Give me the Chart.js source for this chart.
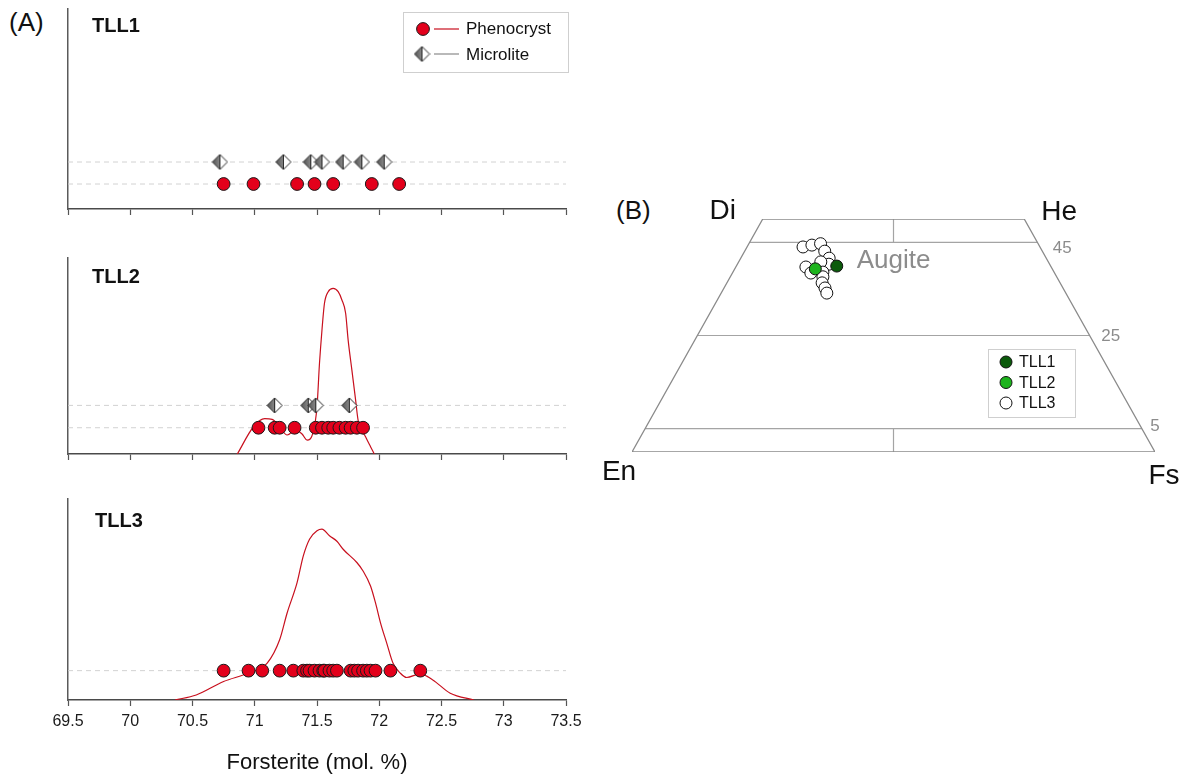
<!DOCTYPE html>
<html>
<head>
<meta charset="utf-8">
<title>Forsterite distribution and pyroxene quadrilateral</title>
<script src="https://cdn.jsdelivr.net/npm/chart.js@4.4.1/dist/chart.umd.min.js"></script>
<style>
  html, body { margin: 0; padding: 0; background: #fff; }
  body { width: 1191px; height: 780px; position: relative; overflow: hidden;
         font-family: "Liberation Sans", Arial, Helvetica, sans-serif; }
  canvas { position: absolute; }
  .tag { position: absolute; font-size: 26px; line-height: 1; color: #111; white-space: nowrap; }
</style>
</head>
<body>
<div class="tag" style="left:9px;top:9px">(A)</div>
<div class="tag" style="left:616px;top:197px">(B)</div>

<canvas id="tll1" width="590" height="222" style="left:0;top:0"></canvas>
<canvas id="tll2" width="590" height="220" style="left:0;top:248px"></canvas>
<canvas id="tll3" width="590" height="290" style="left:0;top:490px"></canvas>
<canvas id="quad" width="596" height="310" style="left:595px;top:180px"></canvas>

<script>
// ---------- olivine forsterite content (mol. %) ----------
const foTicks = [69.5, 70, 70.5, 71, 71.5, 72, 72.5, 73, 73.5];

const tll1Phenocryst = [70.75, 70.99, 71.34, 71.48, 71.63, 71.94, 72.16];
const tll1Microlite  = [70.72, 71.23, 71.45, 71.54, 71.71, 71.86, 72.04];

const tll2Phenocryst = [71.03, 71.16, 71.20, 71.32, 71.49, 71.54, 71.59, 71.63, 71.68, 71.73, 71.77, 71.82, 71.87];
const tll2Microlite  = [71.16, 71.43, 71.49, 71.76];

const tll3Phenocryst = [70.75, 70.95, 71.06, 71.20, 71.31, 71.39, 71.42, 71.44, 71.48, 71.52, 71.55, 71.56,
                        71.60, 71.63, 71.66, 71.77, 71.80, 71.83, 71.87, 71.90, 71.93, 71.97, 72.09, 72.33];

// kernel density of the phenocryst compositions (relative units)
const tll2DensityFo = [70.86, 70.99, 71.08, 71.14, 71.20, 71.26, 71.33, 71.38, 71.42, 71.47, 71.50, 71.52, 71.54,
                       71.56, 71.59, 71.63, 71.67, 71.70, 71.73, 71.75, 71.78, 71.81, 71.83, 71.89, 71.93, 71.96];
const tll2Density   = [0, 0.139, 0.180, 0.177, 0.139, 0.097, 0.122, 0.102, 0.071, 0.114, 0.241, 0.463, 0.633,
                       0.769, 0.828, 0.845, 0.828, 0.786, 0.718, 0.582, 0.429, 0.276, 0.173, 0.088, 0.037, 0];

const tll3DensityFo = [70.36, 70.53, 70.75, 70.95, 71.10, 71.20, 71.26, 71.34, 71.39, 71.44, 71.50, 71.54, 71.60, 71.66,
                       71.71, 71.82, 71.87, 71.93, 71.97, 72.01, 72.06, 72.11, 72.17, 72.22, 72.33, 72.43, 72.57, 72.76];
const tll3Density   = [0, 0.025, 0.092, 0.134, 0.184, 0.300, 0.433, 0.584, 0.717, 0.800, 0.842, 0.850, 0.817, 0.790,
                       0.750, 0.684, 0.642, 0.567, 0.483, 0.384, 0.283, 0.184, 0.133, 0.112, 0.130, 0.100, 0.034, 0];

// ---------- pyroxene compositions (Wo, Fs in mol. %) ----------
const tll1Wo = [39.9];
const tll1Fs = [19.2];
const tll2Wo = [39.3];
const tll2Fs = [15.4];
const tll3Wo = [44.0, 44.4, 44.7, 43.1, 41.6, 40.3, 40.8, 39.7, 38.4, 38.6, 37.6, 36.3, 35.2, 34.1];
const tll3Fs = [10.7, 12.2, 13.7, 15.3, 16.9, 17.5, 15.7, 13.4, 15.0, 17.2, 17.7, 18.2, 19.3, 20.2];

// quadrilateral subdivisions (Wo contours)
const woContours = [45, 25, 5];

// ---------- shared style ----------
const FONT = '"Liberation Sans", Arial, Helvetica, sans-serif';
Chart.defaults.font.family = FONT;
Chart.defaults.animation = false;

const RED = '#e3001b';
const CURVE_RED = '#c8101e';

// half-grey diamond used for microlites
function makeDiamond(size) {
  const c = document.createElement('canvas');
  c.width = c.height = size;
  const g = c.getContext('2d');
  const m = size / 2, r = size / 2 - 1;
  const grad = g.createLinearGradient(m - r, 0, m, 0);
  grad.addColorStop(0, '#555555');
  grad.addColorStop(1, '#8a8a8a');
  g.beginPath(); g.moveTo(m, m - r); g.lineTo(m, m + r); g.lineTo(m - r, m); g.closePath();
  g.fillStyle = grad; g.fill();
  g.beginPath(); g.moveTo(m, m - r); g.lineTo(m + r, m); g.lineTo(m, m + r); g.closePath();
  g.fillStyle = '#ffffff'; g.fill();
  g.strokeStyle = '#222'; g.lineWidth = 1;
  g.beginPath(); g.moveTo(m, m - r); g.lineTo(m + r, m); g.lineTo(m, m + r); g.lineTo(m - r, m); g.closePath(); g.stroke();
  g.beginPath(); g.moveTo(m, m - r); g.lineTo(m, m + r); g.stroke();
  return c;
}
const microliteMarker = makeDiamond(17);

const strip = (values, level) => values.map(v => ({ x: v, y: level }));
const curve = (fo, den) => fo.map((v, i) => ({ x: v, y: den[i] }));

const guideSet = level => ({
  data: [{ x: foTicks[0], y: level }, { x: foTicks[foTicks.length - 1], y: level }],
  showLine: true, borderColor: '#d2d2d2', borderWidth: 1, borderDash: [5, 4], pointRadius: 0, order: 5
});
const phenoSet = (values, level) => ({
  data: strip(values, level), showLine: false, pointStyle: 'circle', pointRadius: 6.4,
  pointBackgroundColor: RED, pointBorderColor: '#1a1a1a', pointBorderWidth: 1, order: 1
});
const microSet = (values, level) => ({
  data: strip(values, level), showLine: false, pointStyle: microliteMarker, pointRadius: 8, order: 1
});
const densitySet = (fo, den) => ({
  data: curve(fo, den), showLine: true, borderColor: CURVE_RED, borderWidth: 1.2, pointRadius: 0,
  cubicInterpolationMode: 'monotone', order: 3
});

// sample name in the corner of each strip panel
const panelTitle = {
  id: 'panelTitle',
  afterDraw(chart, args, o) {
    const ctx = chart.ctx;
    ctx.save();
    ctx.font = 'bold 20px ' + FONT;
    ctx.fillStyle = '#111';
    ctx.textBaseline = 'middle';
    ctx.fillText(o.text, o.x, o.y);
    ctx.restore();
  }
};

// phenocryst / microlite key
const phaseLegend = {
  id: 'phaseLegend',
  afterDraw(chart, args, o) {
    if (!o.show) return;
    const ctx = chart.ctx;
    ctx.save();
    ctx.strokeStyle = '#cfcfcf'; ctx.lineWidth = 1;
    ctx.strokeRect(403.5, 12.5, 165, 60);
    // phenocryst
    ctx.beginPath(); ctx.arc(423, 29, 6.4, 0, Math.PI * 2);
    ctx.fillStyle = RED; ctx.fill(); ctx.strokeStyle = '#1a1a1a'; ctx.stroke();
    ctx.beginPath(); ctx.moveTo(434, 29); ctx.lineTo(459, 29); ctx.strokeStyle = CURVE_RED; ctx.lineWidth = 1.2; ctx.stroke();
    // microlite
    ctx.drawImage(microliteMarker, 422 - 8.5, 54 - 8.5);
    ctx.beginPath(); ctx.moveTo(434, 54); ctx.lineTo(459, 54); ctx.strokeStyle = '#8a8a8a'; ctx.stroke();
    ctx.font = '17px ' + FONT; ctx.fillStyle = '#111'; ctx.textBaseline = 'middle';
    ctx.fillText('Phenocryst', 466, 29);
    ctx.fillText('Microlite', 466, 55);
    ctx.restore();
  }
};

function stripPanel(id, datasets, opt) {
  return new Chart(document.getElementById(id), {
    type: 'scatter',
    data: { datasets },
    options: {
      responsive: false, animation: false, events: [],
      layout: { padding: { top: opt.top, right: 24, left: 0, bottom: 0 } },
      plugins: {
        legend: { display: false }, tooltip: { enabled: false },
        panelTitle: { text: opt.title, x: opt.tx, y: opt.ty },
        phaseLegend: { show: !!opt.key }
      },
      scales: {
        x: {
          type: 'linear', min: foTicks[0], max: foTicks[foTicks.length - 1],
          afterBuildTicks: s => { s.ticks = foTicks.map(v => ({ value: v })); },
          afterFit: s => { s.height = opt.axisH; },
          grid: { drawOnChartArea: false, drawTicks: true, tickLength: 6, color: '#555', tickWidth: 1.2 },
          border: { display: true, color: '#4a4a4a', width: 1.5 },
          ticks: { display: true, color: opt.labels ? '#1a1a1a' : 'rgba(0,0,0,0)', autoSkip: false, maxRotation: 0,
                   padding: 6, font: { size: 16 }, callback: v => String(v) },
          title: { display: !!opt.labels, text: 'Forsterite (mol. %)', color: '#111',
                   font: { size: 22 }, padding: { top: 0, bottom: 4 } }
        },
        y: {
          min: 0, max: 1,
          afterFit: s => { s.width = 68; },
          grid: { drawOnChartArea: false, drawTicks: false },
          border: { display: true, color: '#5a5a5a', width: 1.5 },
          ticks: { display: false }
        }
      }
    },
    plugins: [panelTitle, phaseLegend]
  });
}

stripPanel('tll1', [
  microSet(tll1Microlite, 0.235),
  phenoSet(tll1Phenocryst, 0.125),
  guideSet(0.235), guideSet(0.125)
], { top: 9, axisH: 13, title: 'TLL1', tx: 92, ty: 26, key: true });

stripPanel('tll2', [
  microSet(tll2Microlite, 0.248),
  phenoSet(tll2Phenocryst, 0.134),
  densitySet(tll2DensityFo, tll2Density),
  guideSet(0.248), guideSet(0.134)
], { top: 10, axisH: 14, title: 'TLL2', tx: 92, ty: 29 });

stripPanel('tll3', [
  phenoSet(tll3Phenocryst, 0.146),
  densitySet(tll3DensityFo, tll3Density),
  guideSet(0.146)
], { top: 9, axisH: 80, title: 'TLL3', tx: 95, ty: 31, labels: true });

// ---------- pyroxene quadrilateral (x = Fs + Wo/2, y = Wo) ----------
const toQuad = (wo, fs) => wo.map((w, i) => ({ x: fs[i] + w / 2, y: w }));

const frameStyle = { showLine: true, pointRadius: 0, borderColor: '#8a8a8a', borderWidth: 1.3, order: 10 };
const divStyle = { showLine: true, pointRadius: 0, borderColor: '#a4a4a4', borderWidth: 1.2, order: 10 };

const quadDatasets = [
  { label: 'TLL1', data: toQuad(tll1Wo, tll1Fs), pointRadius: 6, pointBackgroundColor: '#0b5a0b',
    pointBorderColor: '#111', pointBorderWidth: 1, order: 1 },
  { label: 'TLL2', data: toQuad(tll2Wo, tll2Fs), pointRadius: 6, pointBackgroundColor: '#1db41d',
    pointBorderColor: '#111', pointBorderWidth: 1, order: 2 },
  { label: 'TLL3', data: toQuad(tll3Wo, tll3Fs), pointRadius: 6, pointBackgroundColor: '#ffffff',
    pointBorderColor: '#111', pointBorderWidth: 1, order: 3 },
  Object.assign({ data: [{ x: 0, y: 0 }, { x: 25, y: 50 }, { x: 75, y: 50 }, { x: 100, y: 0 }, { x: 0, y: 0 }] }, frameStyle),
  ...woContours.map(w => Object.assign({ data: [{ x: w / 2, y: w }, { x: 100 - w / 2, y: w }] }, divStyle)),
  Object.assign({ data: [{ x: 50, y: 50 }, { x: 50, y: woContours[0] }] }, divStyle),
  Object.assign({ data: [{ x: 50, y: 0 }, { x: 50, y: woContours[2] }] }, divStyle)
];

const quadText = {
  id: 'quadText',
  afterDraw(chart) {
    const { ctx, scales: { x, y } } = chart;
    const P = (a, b) => [x.getPixelForValue(a), y.getPixelForValue(b)];
    ctx.save();
    ctx.textAlign = 'center'; ctx.textBaseline = 'middle';
    // end-members
    ctx.fillStyle = '#111'; ctx.font = '28px ' + FONT;
    let p = P(25, 50);  ctx.fillText('Di', p[0] - 40, p[1] - 8);
    p = P(75, 50);      ctx.fillText('He', p[0] + 35, p[1] - 7);
    p = P(0, 0);        ctx.fillText('En', p[0] - 13, p[1] + 20);
    p = P(100, 0);      ctx.fillText('Fs', p[0] + 9, p[1] + 24);
    // field name
    ctx.fillStyle = '#8c8c8c'; ctx.font = '26px ' + FONT;
    p = P(50, 41);      ctx.fillText('Augite', p[0], p[1]);
    // Wo contour labels
    ctx.font = '17px ' + FONT;
    p = P(100 - woContours[0] / 2, woContours[0]); ctx.fillText(String(woContours[0]), p[0] + 25, p[1] + 6);
    p = P(100 - woContours[1] / 2, woContours[1]); ctx.fillText(String(woContours[1]), p[0] + 21, p[1] + 1);
    p = P(100 - woContours[2] / 2, woContours[2]); ctx.fillText(String(woContours[2]), p[0] + 13, p[1] - 2);
    // sample key
    const ox = 393, oy = 169;
    ctx.strokeStyle = '#cfcfcf'; ctx.lineWidth = 1;
    ctx.strokeRect(ox + 0.5, oy + 0.5, 87, 68);
    ctx.textAlign = 'left'; ctx.font = '16px ' + FONT; ctx.fillStyle = '#111';
    chart.data.datasets.slice(0, 3).forEach((ds, i) => {
      const cy = oy + 13 + i * 20.5;
      ctx.beginPath(); ctx.arc(ox + 18, cy, 6, 0, Math.PI * 2);
      ctx.fillStyle = ds.pointBackgroundColor; ctx.fill();
      ctx.strokeStyle = '#111'; ctx.stroke();
      ctx.fillStyle = '#111'; ctx.fillText(ds.label, ox + 31, cy + 1);
    });
    ctx.restore();
  }
};

new Chart(document.getElementById('quad'), {
  type: 'scatter',
  data: { datasets: quadDatasets },
  options: {
    responsive: false, animation: false, events: [],
    layout: { padding: { left: 37, right: 36, top: 39, bottom: 38 } },
    plugins: { legend: { display: false }, tooltip: { enabled: false } },
    scales: {
      x: { type: 'linear', min: 0, max: 100, display: false },
      y: { type: 'linear', min: 0, max: 50, display: false }
    }
  },
  plugins: [quadText]
});
</script>
</body>
</html>
